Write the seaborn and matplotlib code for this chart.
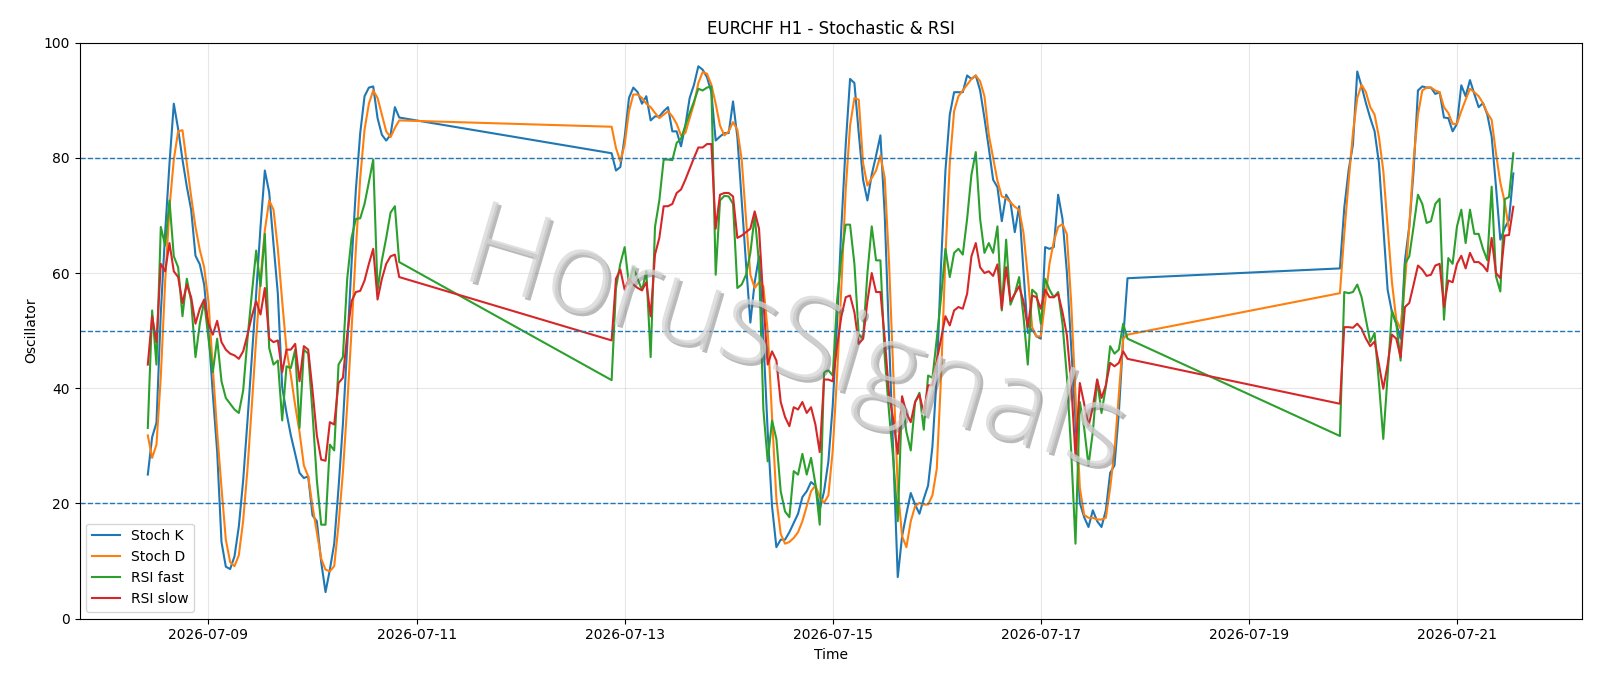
import numpy as np
import pandas as pd
import matplotlib
matplotlib.use("Agg")
import matplotlib.pyplot as plt
import matplotlib.dates as mdates
import matplotlib.patheffects as pe
from matplotlib import font_manager
import seaborn as sns

# ---------------- data ----------------
seg_starts = ["2026-07-08 10:00", "2026-07-12 21:00", "2026-07-19 21:00"]

stoch_k_1 = [25, 31.5, 34, 53, 67, 79, 89.4, 85, 79.7, 75, 71, 63, 61.5, 58, 50, 39, 29, 13.3, 9, 8.6,
             10.8, 16, 24, 34.4, 45.4, 56.4, 68, 77.8, 74, 65, 56.4, 40.2, 35.7, 31.8, 28.6, 25.3, 24.4, 24.7, 17.9, 16.9,
             9.8, 4.6, 8.5, 13, 22.7, 33.7, 47.3, 61.6, 74.5, 84.3, 90.7, 92.2, 92.4, 86.9, 84, 83, 84, 88.8, 87]
stoch_d_1 = [31.8, 27.9, 30.2, 42, 58.4, 71.3, 79.7, 84.6, 84.8, 79, 73.3, 68, 64, 61, 55, 43.5, 32.4, 22.7, 13.7, 9.8,
             9.1, 11, 17, 26, 37, 48.6, 59, 67.4, 72.6, 71, 64.2, 55.1, 46.7, 42.2, 37, 32.4, 26.6, 24.7, 19.5, 15,
             10.4, 8.5, 8.2, 9.1, 16.3, 25.3, 37, 50, 64.2, 76.5, 84.9, 89.4, 91.7, 90.4, 87.5, 84.6, 83.6, 85.2, 86.5]
rsi_fast_1 = [33.1, 53.5, 44.1, 68, 64.8, 72.6, 62.9, 61, 52.5, 59, 55.1, 45.4, 51.2, 55.1, 48.6, 42.8, 48.6, 41.2, 38.3, 37.3,
              36.3, 35.7, 39.6, 48.6, 56.4, 63.9, 57.7, 66.8, 47, 44.1, 44.8, 34.4, 43.8, 43.5, 46.7, 33.1, 46.7, 46, 35.7, 24,
              16.3, 16.3, 30.2, 29.2, 44.1, 45.4, 59, 66.1, 69.4, 69.5, 72, 75.8, 79.7, 57, 62.2, 66.1, 70.5, 71.6, 61.9]
rsi_slow_1 = [44.1, 52.5, 48, 61.6, 60.3, 65.2, 60.3, 59.3, 54.8, 58, 55.8, 51.2, 53.8, 55.4, 51.2, 49.3, 51.7, 48, 46.7, 46,
              45.7, 45.1, 46.4, 49.3, 52.5, 55.1, 52.8, 57.4, 48.6, 48, 48.3, 42.8, 46.7, 46.7, 47.7, 41.2, 47.3, 46.7, 39.6, 31.8,
              27.6, 27.4, 34.1, 33.7, 40.9, 41.8, 49.3, 55.1, 56.7, 56.9, 58.7, 61.6, 64.2, 55.4, 59, 61.6, 62.9, 63.2, 59.3]

stoch_k_2 = [80.8, 77.8, 78.4, 83.6, 90.4, 92.2, 91.4, 89.4, 90.7, 86.5, 87.2, 87.2, 88.1, 88.8, 84.6, 84.6, 82, 85.6, 90.4, 92.7,
             95.9, 95.3, 94, 91.4, 83, 83.7, 84.3, 84.3, 89.8, 83.6, 72.6, 61.6, 51.4, 58.4, 62.9, 48.6, 32.4, 19.5, 12.4, 13.7,
             13.7, 15, 16.6, 18.2, 21.1, 22.1, 23.7, 23.1, 18.9, 22.1, 27.3, 37, 51.2, 68.1, 82.3, 93.7, 93, 84.3, 76.2, 72.6,
             77.1, 80.4, 83.9, 70, 48.6, 27.9, 7.2, 14.3, 18.2, 21.8, 19.8, 18.2, 20.8, 23.1, 29.9, 42.2, 61.6, 77.8, 87.5, 91.4,
             91.4, 91.4, 94.3, 93.7, 94.3, 91.7, 86.9, 81.7, 76.2, 74.9, 69, 73.6, 72.3, 67.1, 71.6, 60.3, 49.6, 50.3, 49, 48.6,
             64.5, 64.2, 64.5, 73.6, 69.4, 60.3, 47.3, 34.4, 20.1, 17.6, 15.9, 18.8, 16.9, 15.9, 18.8, 25.3, 26.6, 35.7, 48.6, 59.1]
stoch_d_2 = [85.4, 81.7, 79.4, 82.3, 88.1, 91, 91, 90.4, 89.4, 88.8, 87.8, 86.9, 87.5, 88.1, 87.2, 85.9, 83.9, 84.3, 86.9, 89.4,
             93, 94.9, 94.6, 92.7, 89.4, 85.6, 83.9, 84.6, 86.2, 84.9, 79.7, 69.4, 59.7, 57.4, 58.4, 57.7, 49.9, 35, 20.8, 14.7,
             13, 13.3, 14, 15, 16.9, 19.5, 22.1, 23.1, 21.1, 20.1, 21.4, 29.2, 42.2, 57.7, 74.5, 85.6, 90.4, 90.1, 79.1, 75.2,
             76.5, 77.8, 80.4, 76.5, 61.6, 42.2, 22.7, 14.3, 12.4, 16.9, 19.5, 20.1, 19.8, 19.8, 21.4, 26, 42.2, 62.9, 79.1, 88.1,
             90.7, 91.7, 92.7, 93.7, 94.3, 93.3, 90.7, 84, 80, 76, 73.3, 73, 72.3, 71.5, 71, 67, 59.5, 50.6, 49, 49,
             55, 61.6, 65.5, 68, 68.5, 66.8, 55, 38.9, 22.7, 18, 17.5, 17.5, 17.2, 17.2, 17.5, 22.7, 29.2, 38.9, 48.6, 49.3]
rsi_fast_2 = [41.4, 57.4, 61.6, 64.5, 58, 61, 59, 57, 60.3, 45.4, 68, 72.6, 79.7, 79.7, 79.6, 82.6, 83.3, 85.6, 87.8, 89.8,
              92, 91.7, 92.2, 92.4, 59.7, 72.6, 73.4, 73.3, 72, 57.4, 58, 59.7, 63.5, 70, 61.6, 36.3, 27.3, 34.4, 31.2, 22.1,
              18.6, 17.6, 25.6, 25, 28.6, 25, 27.9, 23.4, 16.3, 42.8, 43.1, 42.2, 55.1, 62.9, 68.4, 68.4, 61.6, 49.3, 48.6, 60,
              68.1, 62.2, 62.2, 45.4, 35.7, 27.3, 16.9, 38.3, 32.4, 29.2, 37.6, 39.2, 32.8, 42.2, 41.8, 48.6, 55.8, 64.2, 59.3, 63.5,
              64.2, 63.2, 69.4, 77.1, 81, 69.4, 63.5, 65.2, 63.5, 68.1, 53.5, 65.8, 54.5, 56.4, 59.3, 52.5, 44.1, 57.1, 56.4, 51.2,
              59, 57.1, 55.8, 56.7, 51.2, 42.2, 29.2, 13, 37.6, 33.1, 26.6, 32.4, 41.5, 35.7, 40.2, 47.3, 46, 46.7, 51.2, 48.6]
rsi_slow_2 = [48.3, 59, 60.6, 57.1, 59, 58, 57.4, 57, 58.4, 52.5, 63.2, 66.1, 71.6, 71.6, 72, 73.9, 74.5, 76.2, 78.1, 80,
              81.8, 81.8, 82.4, 82.4, 67.7, 73.6, 73.9, 73.9, 73.3, 66.1, 66.5, 67.1, 67.7, 70.7, 67.7, 55.1, 44.1, 46.4, 44.8, 37.6,
              35, 33.4, 36.7, 36.3, 37.6, 35.7, 36.7, 33.7, 28.9, 41.5, 41.5, 41.2, 47.3, 52.5, 55.8, 56.1, 53.2, 47.7, 48.6, 55.1,
              60, 56.7, 56.7, 48.6, 38.9, 34.4, 28.6, 38.6, 35.7, 34.1, 37.6, 38.9, 35.7, 40.5, 40.5, 44.8, 48.6, 52.5, 50.9, 53.5,
              54.1, 53.8, 56.4, 62.9, 65.2, 61, 60, 60.3, 59.5, 61.5, 53.8, 61, 55.1, 56.4, 57.7, 55.1, 50.6, 56.1, 55.8, 53.8,
              57.1, 55.8, 55.8, 56.4, 53.2, 49.3, 40.9, 28.2, 40.9, 37.3, 33.4, 36.7, 41.5, 38.3, 40.5, 44.4, 43.8, 44.4, 46.4, 45.1]

stoch_k_3 = [60.8, 71.3, 77.8, 82.3, 95, 92.4, 89.5, 86.9, 84.6, 79.1, 68.1, 57.1, 53.2, 51.2, 48.6, 62.2, 68.1, 77.8, 91.7, 92.4,
             92.2, 92.2, 91.1, 91.4, 87, 86.9, 84.6, 85.9, 92.6, 90.7, 93.5, 91.1, 88.8, 89.5, 87.5, 83.7, 75, 65.8, 67.8, 69.2, 77.3]
stoch_d_3 = [56.5, 66.8, 75.8, 84.3, 90.4, 92.7, 91.4, 88.8, 87.5, 83.6, 77.8, 68.1, 58.4, 51.9, 50.3, 58.4, 68.1, 79.7, 87.5, 91.7,
             92.2, 92.2, 91.7, 91.4, 88.8, 87.8, 85.9, 85.9, 88.1, 90.1, 92, 91.4, 90.7, 89.5, 87.8, 86.6, 80.8, 75.7, 72.4, 67.5, np.nan]
rsi_fast_3 = [31.7, 56.7, 56.5, 56.7, 58, 55.8, 51.9, 48, 49.6, 40.9, 31.2, 42.2, 53.5, 51.2, 44.8, 61.6, 62.9, 68.1, 73.6, 72,
              68.7, 69, 72, 72.9, 51.9, 62.6, 61.6, 68.1, 71, 65.2, 71, 66.8, 66.8, 64.2, 62.2, 75, 59.4, 56.8, 72.8, 73.2, 80.8]
rsi_slow_3 = [37.3, 50.6, 50.6, 50.5, 51.2, 50.3, 48.6, 47.3, 48.1, 44.1, 39.9, 44.1, 49.3, 48.6, 45.4, 54.1, 54.8, 58, 61.3, 60.6,
              59.5, 59.7, 61.3, 61.6, 54.1, 58.7, 58.4, 61.6, 63, 60.8, 63.5, 61.9, 61.9, 61.3, 60.3, 66.1, 60, 59.1, 66.5, 66.6, 71.5]

series_names = ["Stoch K", "Stoch D", "RSI fast", "RSI slow"]
levels = [20, 50, 80]
title = "EURCHF H1 - Stochastic & RSI"
watermark = "HorusSignals"

# ---------------- build frame ----------------
segments = [
    (stoch_k_1, stoch_d_1, rsi_fast_1, rsi_slow_1),
    (stoch_k_2, stoch_d_2, rsi_fast_2, rsi_slow_2),
    (stoch_k_3, stoch_d_3, rsi_fast_3, rsi_slow_3),
]
frames = []
for start, seg in zip(seg_starts, segments):
    t = pd.date_range(start, periods=len(seg[0]), freq="h")
    for name, vals in zip(series_names, seg):
        frames.append(pd.DataFrame({"Time": t, "value": vals, "series": name}))
df = pd.concat(frames, ignore_index=True)

# ---------------- plot ----------------
fig, ax = plt.subplots(figsize=(16, 6.86), dpi=100)
fig.subplots_adjust(left=0.0497, right=0.9885, bottom=0.0983, top=0.9378)

colors = ["C0", "C1", "C2", "C3"]
for name, c in zip(series_names, colors):
    sub = df[df["series"] == name]
    sns.lineplot(data=sub, x="Time", y="value", ax=ax, color=c, label=name, linewidth=1.5)

for lv in levels:
    ax.axhline(lv, color="C0", linestyle="--", linewidth=1)

ax.set_ylim(0, 100)
ax.xaxis.set_major_locator(mdates.DayLocator(bymonthday=[9, 11, 13, 15, 17, 19, 21]))
ax.xaxis.set_major_formatter(mdates.DateFormatter("%Y-%m-%d"))
ax.grid(True, alpha=0.3)
ax.set_title(title, fontsize=12)
ax.set_xlabel("Time")
ax.set_ylabel("Oscillator")
ax.legend(loc="lower left")

# light-weight watermark
wm_fp = font_manager.FontProperties(family=["Open Sans", "Lato", "DejaVu Sans"], weight=300, size=84)
ax.text(0.476, 0.474, watermark, transform=ax.transAxes, fontproperties=wm_fp,
        color="#d6d6d6", alpha=0.75, rotation=-16.5, ha="center", va="center", zorder=10,
        path_effects=[pe.withSimplePatchShadow(offset=(2, -2), shadow_rgbFace="#666666", alpha=0.45)])

fig.savefig("out.png", dpi=100)
